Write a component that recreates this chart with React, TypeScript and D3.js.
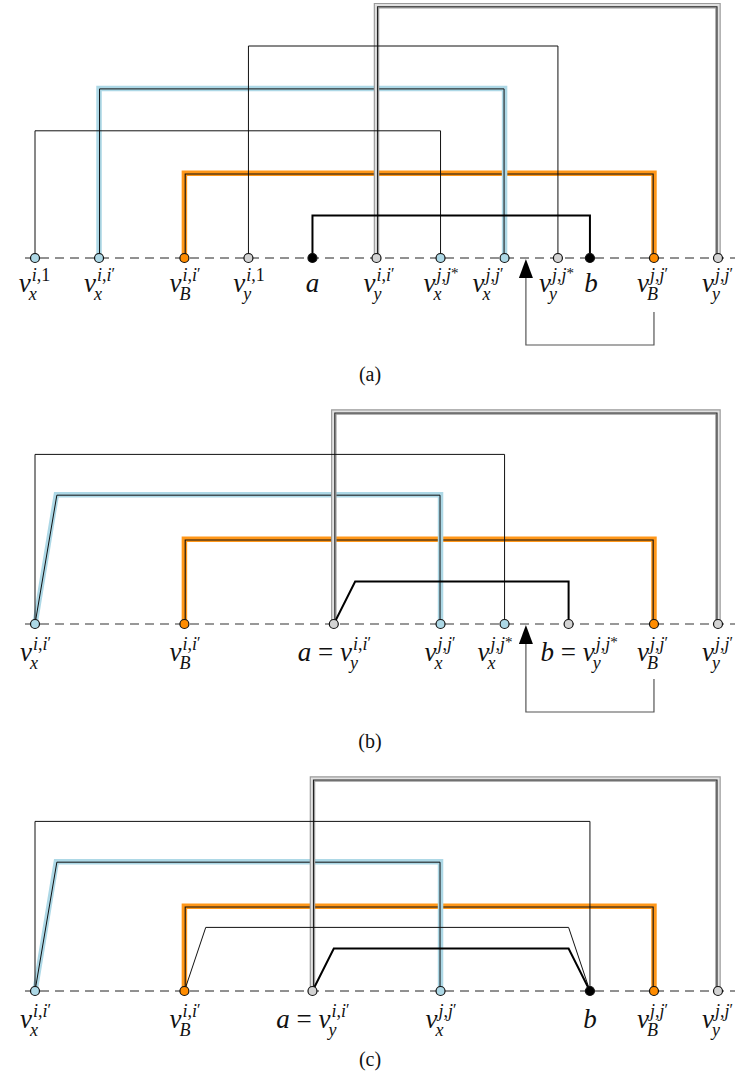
import React from 'react';
import * as d3 from 'd3';

const W = 740;
const H = 1080;
const FONT = '"Liberation Serif", "Times New Roman", serif';
const MAIN = 27;
const SCRIPT = 18;

// slot units along the axis
const xScale = d3.scaleLinear().domain([0, 32]).range([35, 718]);
// level units above the axis
const hScale = d3.scaleLinear().domain([0, 1]).range([0, 42.4]);

// axis baselines of the three panels
const panelAxisY = [258, 624, 991];
const captions = ['(a)', '(b)', '(c)'];
const captionY = [381, 748, 1066];
const labelOffset = [34, 37, 37];
const axisColor = ['#222', '#777', '#222'];

const nodesA = [
  { u: 0, fill: 'blue', main: 'v', sup: 'i,1', sub: 'x', dx: -1 },
  { u: 3, fill: 'blue', main: 'v', sup: "i,i'", sub: 'x', dx: 0 },
  { u: 7, fill: 'orange', main: 'v', sup: "i,i'", sub: 'B', dx: 0 },
  { u: 10, fill: 'gray', main: 'v', sup: 'i,1', sub: 'y', dx: 0 },
  { u: 13, fill: 'black', main: 'a', sup: '', sub: '', dx: 0 },
  { u: 16, fill: 'gray', main: 'v', sup: "i,i'", sub: 'y', dx: 2 },
  { u: 19, fill: 'blue', main: 'v', sup: 'j,j*', sub: 'x', dx: 0 },
  { u: 22, fill: 'blue', main: 'v', sup: "j,j'", sub: 'x', dx: -17 },
  { u: 24.5, fill: 'gray', main: 'v', sup: 'j,j*', sub: 'y', dx: -2 },
  { u: 26, fill: 'black', main: 'b', sup: '', sub: '', dx: 1 },
  { u: 29, fill: 'orange', main: 'v', sup: "j,j'", sub: 'B', dx: -2 },
  { u: 32, fill: 'gray', main: 'v', sup: "j,j'", sub: 'y', dx: -1 },
];
const nodesB = [
  { u: 0, fill: 'blue', main: 'v', sup: "i,i'", sub: 'x', dx: 0 },
  { u: 7, fill: 'orange', main: 'v', sup: "i,i'", sub: 'B', dx: 0 },
  { u: 14, fill: 'gray', main: 'a = v', sup: "i,i'", sub: 'y', dx: 0 },
  { u: 19, fill: 'blue', main: 'v', sup: "j,j'", sub: 'x', dx: -1 },
  { u: 22, fill: 'blue', main: 'v', sup: 'j,j*', sub: 'x', dx: -10 },
  { u: 25, fill: 'gray', main: 'b = v', sup: 'j,j*', sub: 'y', dx: 10 },
  { u: 29, fill: 'orange', main: 'v', sup: "j,j'", sub: 'B', dx: -2 },
  { u: 32, fill: 'gray', main: 'v', sup: "j,j'", sub: 'y', dx: -1 },
];
const nodesC = [
  { u: 0, fill: 'blue', main: 'v', sup: "i,i'", sub: 'x', dx: 0 },
  { u: 7, fill: 'orange', main: 'v', sup: "i,i'", sub: 'B', dx: 0 },
  { u: 13, fill: 'gray', main: 'a = v', sup: "i,i'", sub: 'y', dx: 0 },
  { u: 19, fill: 'blue', main: 'v', sup: "j,j'", sub: 'x', dx: 0 },
  { u: 26, fill: 'black', main: 'b', sup: '', sub: '', dx: 0 },
  { u: 29, fill: 'orange', main: 'v', sup: "j,j'", sub: 'B', dx: -2 },
  { u: 32, fill: 'gray', main: 'v', sup: "j,j'", sub: 'y', dx: -1 },
];

// edges: from/to slot, level above axis, style, slanted ends
const edgesA = [
  { from: 7, to: 29, lv: 2, style: 'orange', sl: false, sr: false },
  { from: 3, to: 22, lv: 4, style: 'blue', sl: false, sr: false },
  { from: 16, to: 32, lv: 5.95, style: 'gray', sl: false, sr: false },
  { from: 10, to: 24.5, lv: 5, style: 'thin', sl: false, sr: false },
  { from: 0, to: 19, lv: 3, style: 'thin', sl: false, sr: false },
  { from: 13, to: 26, lv: 1, style: 'thick', sl: false, sr: false },
];
const edgesB = [
  { from: 7, to: 29, lv: 2, style: 'orange', sl: false, sr: false },
  { from: 0, to: 19, lv: 3.05, style: 'blue', sl: true, sr: false },
  { from: 14, to: 32, lv: 5, style: 'gray', sl: false, sr: false },
  { from: 0, to: 22, lv: 4, style: 'thin', sl: false, sr: false },
  { from: 14, to: 25, lv: 1, style: 'thick', sl: true, sr: false },
];
const edgesC = [
  { from: 7, to: 29, lv: 2, style: 'orange', sl: false, sr: false },
  { from: 0, to: 19, lv: 3.05, style: 'blue', sl: true, sr: false },
  { from: 13, to: 32, lv: 5, style: 'gray', sl: false, sr: false },
  { from: 0, to: 26, lv: 4, style: 'thin', sl: false, sr: false },
  { from: 7, to: 26, lv: 1.5, style: 'thin', sl: true, sr: true },
  { from: 13, to: 26, lv: 1, style: 'thick', sl: true, sr: true },
];

const arrows = [
  { panel: 0, from: 29, to: 23, start: 54, bottom: 87 },
  { panel: 1, from: 29, to: 23, start: 55, bottom: 88 },
];

const panels = [
  { nodes: nodesA, edges: edgesA },
  { nodes: nodesB, edges: edgesB },
  { nodes: nodesC, edges: edgesC },
];

const fills: Record<string, string> = {
  blue: '#add8e6',
  orange: '#ff8c00',
  gray: '#d3d3d3',
  black: '#000',
};

let ctx: CanvasRenderingContext2D | null = null;
function tw(s: string, size: number, italic: boolean) {
  if (!ctx) ctx = document.createElement('canvas').getContext('2d');
  if (!ctx) return s.length * size * 0.5;
  ctx.font = `${italic ? 'italic ' : ''}${size}px ${FONT}`;
  return ctx.measureText(s).width;
}

function mainParts(m: string) {
  if (m === 'v' || m === 'a' || m === 'b') return [{ t: m, it: true }];
  const [l, r] = m.split(' = ');
  return [
    { t: l, it: true },
    { t: ' = ', it: false },
    { t: r, it: true },
  ];
}

// superscript split into italic letters / upright digits, comma, prime, star
function supParts(s: string) {
  return s.split('').map((c) => {
    if (c === "'") return { t: '′', it: false, size: 16, dy: -2 };
    if (c === '*') return { t: '*', it: false, size: 15, dy: -3 };
    if (/[a-z]/.test(c)) return { t: c, it: true, size: SCRIPT, dy: 0 };
    return { t: c, it: false, size: SCRIPT, dy: 0 };
  });
}

function Label({ x, y, n }: { x: number; y: number; n: any }) {
  const parts = mainParts(n.main);
  const mainW = parts.reduce((a, p) => a + tw(p.t, MAIN, p.it), 0);
  const sp = n.sup ? supParts(n.sup) : [];
  const supW = sp.reduce((a, p) => a + tw(p.t, p.size, p.it), 0);
  const subW = n.sub ? tw(n.sub, SCRIPT, true) : 0;
  const total = mainW + Math.max(supW, subW);
  const x0 = x - total / 2 + n.dx;
  let acc = 0;
  let prevDy = 0;
  return (
    <g fontFamily={FONT} fill="#111">
      <text x={x0} y={y} fontSize={MAIN}>
        {parts.map((p, i) => (
          <tspan key={i} fontStyle={p.it ? 'italic' : 'normal'}>
            {p.t.replace(/ /g, '\u00a0')}
          </tspan>
        ))}
      </text>
      {sp.map((p, i) => {
        const px = x0 + mainW + 1 + acc;
        acc += tw(p.t, p.size, p.it);
        prevDy = p.dy;
        return (
          <text
            key={'s' + i}
            x={px}
            y={y - 11 + prevDy}
            fontSize={p.size}
            fontStyle={p.it ? 'italic' : 'normal'}
          >
            {p.t}
          </text>
        );
      })}
      {n.sub && (
        <text x={x0 + mainW - 2} y={y + 8} fontSize={SCRIPT} fontStyle="italic">
          {n.sub}
        </text>
      )}
    </g>
  );
}

function edgePath(e: any, y0: number, o = 0) {
  const p = d3.path();
  const h = hScale(e.lv);
  const xl = xScale(e.from);
  const xr = xScale(e.to);
  const xs = xScale(e.sl ? e.from + 1 : e.from);
  const xe = xScale(e.sr ? e.to - 1 : e.to);
  p.moveTo(xl + (e.sl ? 0 : o), y0);
  p.lineTo(xs + o, y0 - h + o);
  p.lineTo(xe - o, y0 - h + o);
  p.lineTo(xr - (e.sr ? 0 : o), y0);
  return p.toString();
}

function Edge({ e, y0 }: { e: any; y0: number }) {
  if (e.style === 'thin')
    return <path d={edgePath(e, y0)} fill="none" stroke="#111" strokeWidth={1} />;
  if (e.style === 'thick')
    return <path d={edgePath(e, y0)} fill="none" stroke="#000" strokeWidth={2} />;
  if (e.style === 'orange')
    return (
      <g fill="none">
        <path d={edgePath(e, y0)} stroke="#ff8c00" strokeWidth={5.5} opacity={0.9} />
        <path d={edgePath(e, y0, 0.8)} stroke="#111" strokeWidth={1.1} />
      </g>
    );
  if (e.style === 'blue')
    return (
      <g fill="none">
        <path d={edgePath(e, y0)} stroke="#add8e6" strokeWidth={5.5} />
        <path d={edgePath(e, y0, 0.5)} stroke="#111" strokeWidth={1} />
      </g>
    );
  return (
    <g fill="none">
      <path d={edgePath(e, y0)} stroke="#9a9a9a" strokeWidth={5.5} />
      <path d={edgePath(e, y0)} stroke="#e2e2e2" strokeWidth={3.2} />
      <path d={edgePath(e, y0, 1)} stroke="#222" strokeWidth={1.1} />
    </g>
  );
}

export default function App() {
  return (
    <svg
      width={W}
      height={H}
      style={{ display: 'block', position: 'absolute', left: 0, top: 0 }}
    >
      <rect width={W} height={H} fill="#fff" />
      {panels.map((pn, pi) => {
        const y0 = panelAxisY[pi];
        return (
          <g key={pi}>
            <line
              x1={25}
              x2={735}
              y1={y0}
              y2={y0}
              stroke={axisColor[pi]}
              strokeWidth={pi === 1 ? 1.6 : 1}
              strokeDasharray="9,6"
            />
            {pn.edges.map((e, i) => (
              <Edge key={i} e={e} y0={y0} />
            ))}
            {arrows
              .filter((a) => a.panel === pi)
              .map((a, i) => {
                const xr = xScale(a.from);
                const xl = xScale(a.to);
                return (
                  <g key={i}>
                    <path
                      d={`M${xr},${y0 + a.start}V${y0 + a.bottom}H${xl}V${y0 + 18}`}
                      fill="none"
                      stroke="#555"
                      strokeWidth={1.2}
                    />
                    <path
                      d={`M${xl},${y0 + 1}L${xl - 7},${y0 + 20}L${xl + 7},${y0 + 20}Z`}
                      fill="#000"
                    />
                  </g>
                );
              })}
            {pn.nodes.map((n, i) => (
              <circle
                key={i}
                cx={xScale(n.u)}
                cy={y0}
                r={4.5}
                fill={fills[n.fill]}
                stroke="#111"
                strokeWidth={1.2}
              />
            ))}
            {pn.nodes.map((n, i) => (
              <Label key={'l' + i} x={xScale(n.u)} y={y0 + labelOffset[pi]} n={n} />
            ))}
            <text
              x={370}
              y={captionY[pi]}
              fontFamily={FONT}
              fontSize={20}
              textAnchor="middle"
              fill="#111"
            >
              {captions[pi]}
            </text>
          </g>
        );
      })}
    </svg>
  );
}
